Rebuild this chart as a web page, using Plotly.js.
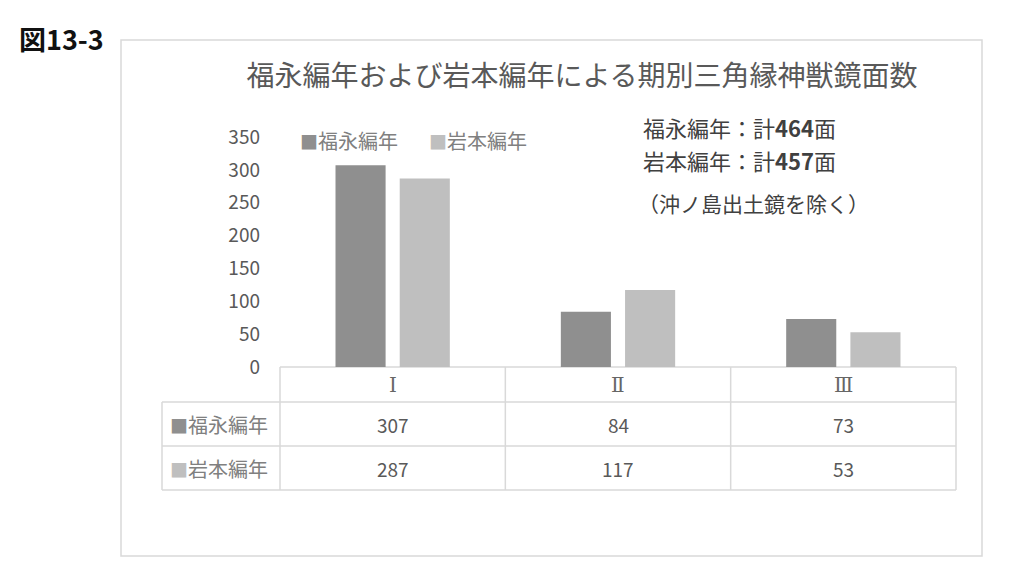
<!DOCTYPE html>
<html>
<head>
<meta charset="utf-8">
<script src="https://cdn.plot.ly/plotly-3.0.1.min.js"></script>
<style>
  html, body { margin: 0; padding: 0; background: #fff; }
  #chart { width: 1024px; height: 576px; }
</style>
</head>
<body>
<div id="chart"></div>
<script>
// Data (三角縁神獣鏡, by period).
const categories = ["Ⅰ", "Ⅱ", "Ⅲ"];
const seriesNames = ["福永編年", "岩本編年"];
const fukunaga = [307, 84, 73];
const iwamoto = [287, 117, 53];
const seriesColors = ["#8f8f8f", "#bfbfbf"];
const yTicks = [0, 50, 100, 150, 200, 250, 300, 350];
const figLabel = "図13-3";
const chartTitle = "福永編年および岩本編年による期別三角縁神獣鏡面数";
const noteLine = "（沖ノ島出土鏡を除く）";

const FONT = "Noto Sans CJK JP, Noto Sans, sans-serif";
const GRID = "#d9d9d9";
const values = [fukunaga, iwamoto];

// paper-y for a pixel row, plot area is y 137..367 (230px)
const py = px => (367 - px) / 230;
const pxX = px => (px - 280) / 676;

const traces = values.map((v, i) => ({
  type: "bar",
  name: seriesNames[i],
  x: categories,
  y: v,
  marker: { color: seriesColors[i], line: { width: 0 } },
  hoverinfo: "x+y+name",
}));

// Table grid lines below the plot
const rowLines = [py(402), py(446), py(490)];
const tableBottom = py(490);
const shapes = [
  { type: "line", xref: "paper", yref: "paper", x0: 0, x1: 1, y0: 0, y1: 0 },
  ...rowLines.map(y => ({ type: "line", xref: "paper", yref: "paper", x0: pxX(162), x1: 1, y0: y, y1: y })),
  { type: "line", xref: "paper", yref: "paper", x0: 0, x1: 0, y0: 0, y1: tableBottom },
  { type: "line", xref: "paper", yref: "paper", x0: 1, x1: 1, y0: 0, y1: tableBottom },
  { type: "line", xref: "paper", yref: "paper", x0: pxX(162), x1: pxX(162), y0: rowLines[0], y1: tableBottom },
  ...categories.slice(1).map((_, i) => ({
    type: "line", xref: "x", yref: "paper", x0: i + 0.5, x1: i + 0.5, y0: 0, y1: tableBottom,
  })),
  // outer chart frame
  { type: "rect", xref: "paper", yref: "paper", x0: pxX(121), x1: pxX(982), y0: py(556), y1: py(40) },
].map(s => ({ ...s, line: { color: GRID, width: 1.5 }, layer: "below" }));

const swatch = (c) => `<span style="color:${c};font-size:18px">■</span>`;

const annotations = [];
const note = (o) => annotations.push({ showarrow: false, yanchor: "middle", yref: "paper", ...o });

// category header row
categories.forEach(c => note({
  x: c, xref: "x", xanchor: "center", y: py(385), text: c,
  font: { family: "DejaVu Serif, Liberation Serif, serif", size: 20, color: "#666666" },
}));
// value rows
const rowCenters = [py(424), py(468)];
values.forEach((v, r) => {
  note({
    x: pxX(168), xref: "paper", xanchor: "left", y: rowCenters[r],
    text: swatch(seriesColors[r]) + seriesNames[r],
    font: { family: FONT, size: 20, color: "#808080" },
  });
  v.forEach((val, i) => note({
    x: categories[i], xref: "x", xanchor: "center", y: rowCenters[r],
    text: String(val),
    font: { family: FONT, size: 19, color: "#595959" },
  }));
});
// legend (drawn as text to keep the tight Excel spacing)
[298, 427].forEach((px, i) => note({
  x: pxX(px), xref: "paper", xanchor: "left", y: py(140),
  text: swatch(seriesColors[i]) + seriesNames[i],
  font: { family: FONT, size: 20, color: "#808080" },
}));
// totals note
const totals = values.map(v => v.reduce((a, b) => a + b, 0));
[127, 160].forEach((px, i) => note({
  x: pxX(641), xref: "paper", xanchor: "left", y: py(px),
  text: `${seriesNames[i]}：計<b>${totals[i]}</b>面`,
  font: { family: FONT, size: 22, color: "#404040" },
}));
note({
  x: pxX(636), xref: "paper", xanchor: "left", y: py(203),
  text: noteLine,
  font: { family: FONT, size: 21, color: "#404040" },
});
// figure number
note({
  x: pxX(17), xref: "paper", xanchor: "left", y: py(38),
  text: `<b>${figLabel}</b>`,
  font: { family: FONT, size: 27, color: "#111111" },
});

const layout = {
  width: 1024, height: 576,
  paper_bgcolor: "#ffffff", plot_bgcolor: "#ffffff",
  margin: { l: 280, r: 68, t: 137, b: 209 },
  title: {
    text: chartTitle,
    x: 582 / 1024, xanchor: "center", xref: "container",
    y: 1 - 76 / 576, yanchor: "middle", yref: "container",
    font: { family: FONT, size: 28, color: "#595959" },
  },
  showlegend: false,
  barmode: "group",
  bargap: 0.43,
  bargroupgap: 0.22,
  xaxis: {
    type: "category", range: [-0.5, categories.length - 0.5],
    showticklabels: false, showgrid: false, zeroline: false, showline: false, ticks: "",
  },
  yaxis: {
    range: [0, 350], tickvals: yTicks, ticks: "",
    showgrid: false, zeroline: false, showline: false,
    ticklabelstandoff: 19,
    tickfont: { family: FONT, size: 19, color: "#595959" },
  },
  shapes,
  annotations,
  font: { family: FONT },
};

Plotly.newPlot("chart", traces, layout, { displayModeBar: false, staticPlot: true });
</script>
</body>
</html>
